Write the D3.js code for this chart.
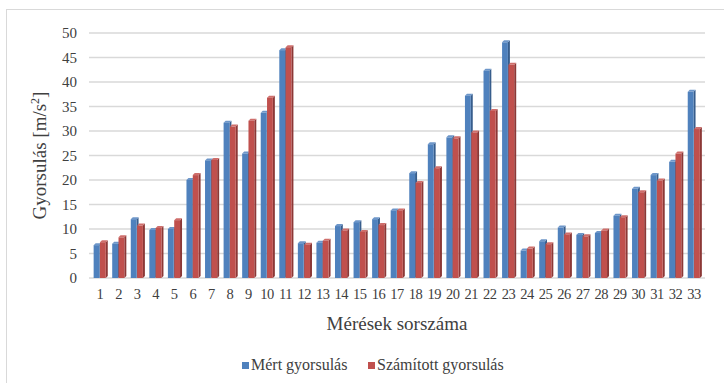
<!DOCTYPE html>
<html lang="hu">
<head>
    <meta charset="UTF-8">
    <title>Gyorsulás</title>
    <script src="https://d3js.org/d3.v7.min.js"></script>
    <style>
        body { margin: 0; background: #fff; }
        svg { display: block; font-family: "Liberation Serif", "Times New Roman", serif; }
    </style>
</head>
<body>
    <svg width="724" height="383"></svg>
    <script>
        // data
        const categories = d3.range(1, 34).map(String);
        const series = ["Mért gyorsulás", "Számított gyorsulás"];
        const measured = [6.7, 7.0, 12.0, 9.8, 10.0, 20.0, 24.0, 31.7, 25.4, 33.7, 46.5,
            7.1, 7.2, 10.6, 11.4, 12.0, 13.8, 21.4, 27.3, 28.7, 37.2, 42.3, 48.1,
            5.6, 7.5, 10.3, 8.8, 9.2, 12.7, 18.2, 21.0, 23.7, 38.0];
        const computed = [7.3, 8.3, 10.7, 10.2, 11.8, 21.0, 24.1, 30.9, 32.1, 36.8, 47.1,
            6.8, 7.6, 9.7, 9.4, 10.8, 13.8, 19.4, 22.4, 28.5, 29.7, 34.1, 43.5,
            6.0, 6.9, 8.9, 8.5, 9.7, 12.4, 17.5, 19.9, 25.4, 30.4];
        const yTicks = d3.range(0, 51, 5);

        const colors = ["#4f81bd", "#c0504d"];
        const sideColors = ["#375d8c", "#8c3836"];
        const topColors = ["#6d96c9", "#cf6e6b"];
        const serif = "Liberation Serif, serif";

        const svg = d3.select("svg");
        const margin = { left: 89, right: 19, top: 33, bottom: 105 };
        const W = 724, H = 383;

        // chart frame (only top/left edges fall inside the picture)
        svg.append("rect")
            .attr("x", 6.5).attr("y", 9.5)
            .attr("width", W + 10).attr("height", H + 10)
            .attr("fill", "none").attr("stroke", "#d9d9d9");

        const x = d3.scaleBand()
            .domain(categories)
            .range([margin.left, W - margin.right])
            .paddingInner(0.32)
            .paddingOuter(0.25);

        const xs = d3.scaleBand()
            .domain(series)
            .range([0, x.bandwidth()]);

        const y = d3.scaleLinear()
            .domain([0, 50])
            .range([H - margin.bottom, margin.top]);

        // gridlines
        svg.append("g")
            .selectAll("line")
            .data(yTicks)
            .join("line")
            .attr("x1", margin.left)
            .attr("x2", W - margin.right)
            .attr("y1", d => y(d))
            .attr("y2", d => y(d))
            .attr("stroke", "#d9d9d9")
            .attr("stroke-width", 1.6);

        // y axis labels
        const yAxis = svg.append("g")
            .attr("transform", `translate(${margin.left - 6},0)`)
            .call(d3.axisLeft(y).tickValues(yTicks).tickSize(0).tickPadding(6));
        yAxis.select(".domain").remove();
        yAxis.selectAll("text")
            .attr("font-family", serif)
            .attr("font-size", 15)
            .attr("fill", "#404040");

        // x axis labels
        const xAxis = svg.append("g")
            .attr("transform", `translate(0,${H - margin.bottom})`)
            .call(d3.axisBottom(x).tickSize(0).tickPadding(11));
        xAxis.select(".domain").remove();
        xAxis.selectAll("text")
            .attr("font-family", serif)
            .attr("font-size", 14.5)
            .attr("letter-spacing", "-0.5px")
            .attr("fill", "#404040");

        // bars with a small 3D depth
        const depth = 2;
        const rows = categories.map((c, i) => ({ c, vals: [measured[i], computed[i]] }));
        const groups = svg.append("g")
            .selectAll("g")
            .data(rows)
            .join("g")
            .attr("transform", d => `translate(${x(d.c)},0)`);

        series.forEach((s, k) => {
            const bw = xs.bandwidth() - 0.5;
            groups.append("polygon")
                .attr("points", d => {
                    const x0 = xs(s) + bw, yt = y(d.vals[k]), yb = y(0);
                    return [[x0, yt], [x0 + depth, yt - depth], [x0 + depth, yb - depth], [x0, yb]].join(" ");
                })
                .attr("fill", sideColors[k]);
            groups.append("polygon")
                .attr("points", d => {
                    const x0 = xs(s), yt = y(d.vals[k]);
                    return [[x0, yt], [x0 + depth, yt - depth], [x0 + bw + depth, yt - depth], [x0 + bw, yt]].join(" ");
                })
                .attr("fill", topColors[k]);
            groups.append("rect")
                .attr("x", xs(s))
                .attr("y", d => y(d.vals[k]))
                .attr("width", bw)
                .attr("height", d => y(0) - y(d.vals[k]))
                .attr("fill", colors[k]);
        });

        // axis titles
        svg.append("text")
            .attr("x", (margin.left + W - margin.right) / 2)
            .attr("y", 330)
            .attr("text-anchor", "middle")
            .attr("font-family", serif)
            .attr("font-size", 19)
            .attr("fill", "#404040")
            .text("Mérések sorszáma");

        const yTitle = svg.append("text")
            .attr("transform", `translate(46,${(y(0) + y(50)) / 2}) rotate(-90)`)
            .attr("text-anchor", "middle")
            .attr("font-family", serif)
            .attr("font-size", 19)
            .attr("fill", "#404040");
        yTitle.append("tspan").text("Gyorsulás  [m/s");
        yTitle.append("tspan").attr("font-size", 12).attr("dy", -7).text("2");
        yTitle.append("tspan").attr("dy", 7).text("]");

        // legend
        const legendX = [242, 368];
        const legend = svg.append("g")
            .selectAll("g")
            .data(series)
            .join("g")
            .attr("transform", (d, i) => `translate(${legendX[i]},362)`);
        legend.append("rect")
            .attr("width", 7).attr("height", 7)
            .attr("fill", (d, i) => colors[i]);
        legend.append("text")
            .attr("x", 9).attr("y", 8)
            .attr("font-family", serif)
            .attr("font-size", 16)
            .attr("fill", "#404040")
            .text(d => d);
    </script>
</body>
</html>
